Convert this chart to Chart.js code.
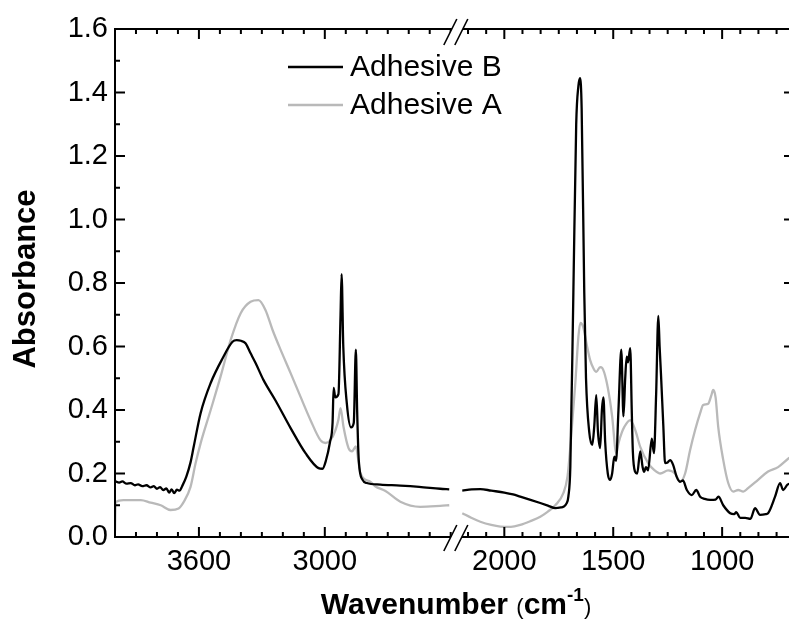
<!DOCTYPE html>
<html>
<head>
<meta charset="utf-8">
<script src="https://cdn.jsdelivr.net/npm/chart.js@4.4.1/dist/chart.umd.min.js"></script>
<style>
  html, body { margin: 0; padding: 0; overflow: hidden; background: #fff; }
</style>
</head>
<body>
<canvas id="chart" width="789" height="619"></canvas>
<script>
// Adhesive B (black)
const bWave = [4000, 3980, 3965, 3945, 3925, 3905, 3890, 3870, 3850, 3830, 3815, 3800, 3785, 3770, 3755, 3742, 3730, 3718, 3705, 3692, 3680,
  3660, 3640, 3625, 3592, 3544, 3487, 3440, 3420, 3400, 3378, 3355, 3330, 3292, 3235, 3163, 3092, 3030, 3011, 2995, 2975, 2963, 2958,
  2950, 2935, 2925, 2920, 2912, 2895, 2875, 2862, 2852, 2846, 2838, 2820, 2800, 2735, 2640, 2550, 2450, 2407,
  2193, 2150, 2110, 2060, 2000, 1960, 1927, 1880, 1835, 1800, 1766, 1740, 1729, 1715, 1706, 1697, 1683, 1670, 1660, 1652, 1645, 1633,
  1625, 1610, 1596, 1587, 1578, 1570, 1560, 1552, 1545, 1537, 1525, 1514, 1505, 1495, 1487, 1476, 1463, 1453, 1445, 1438, 1432, 1422,
  1415, 1410, 1400, 1390, 1376, 1365, 1358, 1350, 1340, 1323, 1313, 1303, 1293, 1287, 1281, 1270, 1262, 1250, 1239, 1225, 1209, 1193,
  1180, 1162, 1139, 1119, 1101, 1080, 1055, 1030, 1017, 995, 963, 945, 935, 917, 894, 870, 849, 826, 800, 789, 757, 734, 720, 700, 670];
const bAbs = [0.176, 0.171, 0.175, 0.168, 0.170, 0.163, 0.166, 0.160, 0.163, 0.156, 0.160, 0.152, 0.157, 0.148, 0.153, 0.140, 0.150, 0.138, 0.149, 0.146, 0.160,
  0.190, 0.235, 0.284, 0.390, 0.485, 0.563, 0.615, 0.620, 0.618, 0.610, 0.580, 0.548, 0.494, 0.430, 0.343, 0.264, 0.217, 0.215, 0.240, 0.300, 0.360, 0.470,
  0.440, 0.450, 0.700, 0.828, 0.600, 0.420, 0.345, 0.360, 0.590, 0.400, 0.240, 0.180, 0.170, 0.165, 0.162, 0.158, 0.152, 0.150,
  0.146, 0.150, 0.151, 0.146, 0.140, 0.134, 0.127, 0.117, 0.107, 0.099, 0.091, 0.093, 0.095, 0.105, 0.127, 0.220, 0.770, 1.300, 1.420, 1.445, 1.350, 0.770,
  0.500, 0.330, 0.290, 0.350, 0.447, 0.330, 0.280, 0.400, 0.440, 0.300, 0.200, 0.180, 0.200, 0.253, 0.240, 0.400, 0.590, 0.380, 0.500, 0.568, 0.550, 0.595,
  0.400, 0.270, 0.206, 0.200, 0.270, 0.220, 0.205, 0.220, 0.210, 0.310, 0.264, 0.450, 0.696, 0.600, 0.516, 0.350, 0.233, 0.235, 0.242, 0.227, 0.190, 0.174,
  0.178, 0.148, 0.132, 0.148, 0.127, 0.120, 0.117, 0.118, 0.127, 0.100, 0.075, 0.072, 0.078, 0.060, 0.060, 0.057, 0.091, 0.070, 0.072, 0.075, 0.127, 0.170, 0.148, 0.165, 0.170];

// Adhesive A (grey)
const aWave = [4000, 3997, 3960, 3900, 3877, 3830, 3782, 3735, 3697, 3673, 3640, 3616, 3592, 3544, 3497, 3449, 3401, 3354, 3316, 3283,
  3249, 3211, 3163, 3116, 3068, 3021, 2996, 2973, 2949, 2935, 2925, 2911, 2887, 2870, 2852, 2840, 2830, 2783, 2760, 2711, 2640, 2545, 2450, 2407,
  2193, 2150, 2110, 2060, 2018, 1970, 1927, 1880, 1835, 1800, 1766, 1729, 1710, 1697, 1674, 1660, 1651, 1638, 1620, 1606, 1590, 1578,
  1560, 1550, 1532, 1515, 1505, 1486, 1476, 1460, 1449, 1422, 1399, 1376, 1339, 1310, 1284, 1248, 1216, 1193, 1170, 1147, 1124, 1101,
  1087, 1064, 1050, 1041, 1030, 1018, 995, 972, 949, 926, 903, 881, 835, 789, 743, 694, 670];
const aAbs = [0.020, 0.110, 0.116, 0.116, 0.116, 0.108, 0.100, 0.085, 0.090, 0.110, 0.158, 0.232, 0.295, 0.400, 0.505, 0.620, 0.705, 0.741, 0.746, 0.715,
  0.652, 0.590, 0.516, 0.442, 0.368, 0.305, 0.296, 0.305, 0.337, 0.370, 0.406, 0.347, 0.280, 0.270, 0.285, 0.240, 0.200, 0.174, 0.160, 0.145, 0.111, 0.095, 0.098, 0.100,
  0.075, 0.060, 0.048, 0.038, 0.033, 0.032, 0.038, 0.050, 0.064, 0.080, 0.100, 0.138, 0.190, 0.284, 0.485, 0.630, 0.674, 0.662, 0.600, 0.557, 0.530, 0.520,
  0.535, 0.532, 0.494, 0.430, 0.380, 0.264, 0.295, 0.330, 0.347, 0.368, 0.337, 0.284, 0.232, 0.210, 0.200, 0.210, 0.200, 0.174, 0.200, 0.274, 0.337, 0.390,
  0.416, 0.420, 0.445, 0.463, 0.440, 0.347, 0.243, 0.170, 0.143, 0.148, 0.143, 0.154, 0.180, 0.206, 0.220, 0.248, 0.260];

const xMajorTicks = [3600, 3000, 2000, 1500, 1000];
const seriesNames = ['Adhesive B', 'Adhesive A'];
const seriesColors = ['#000000', '#b9b9b9'];

// broken x axis: 4000-2378 then 2225-~693 (right frame sits just past the window edge)
const LEFT_START = 4000, LEFT_END = 2378, RIGHT_START = 2225, RIGHT_END = 693;
const S1 = 0.21, S2 = 0.218;
const BREAK_U = (LEFT_START - LEFT_END) * S1;
const MAX_U = BREAK_U + (RIGHT_START - RIGHT_END) * S2;

function toU(w) {
  if (w >= LEFT_END) return (LEFT_START - w) * S1;
  return BREAK_U + (RIGHT_START - w) * S2;
}

function makePoints(waves, vals) {
  const pts = [];
  for (let i = 0; i < waves.length; i++) {
    if (i > 0 && waves[i - 1] >= LEFT_END && waves[i] < LEFT_END) pts.push({ x: BREAK_U, y: null });
    pts.push({ x: toU(waves[i]), y: vals[i] });
  }
  return pts;
}

const FONT = "'Liberation Sans', Arial, sans-serif";

const framePlugin = {
  id: 'frame',
  afterDatasetsDraw(chart) {
    const { ctx, chartArea: a, scales: { x, y } } = chart;
    const rightAxis = a.right + 6; // off-screen right axis, only tick tips show
    ctx.save();
    ctx.strokeStyle = '#000';
    ctx.lineWidth = 2;
    ctx.beginPath();
    ctx.moveTo(a.right + 2, a.top); ctx.lineTo(a.left, a.top);
    ctx.lineTo(a.left, a.bottom); ctx.lineTo(a.right + 2, a.bottom);
    ctx.stroke();

    // x ticks, inward on bottom and top
    const xt = [];
    for (let w = 3900; w >= 2400; w -= 100) xt.push(w);
    for (let k = -2; 2000 - k * 500 / 6 > RIGHT_END; k++) xt.push(2000 - k * 500 / 6);
    ctx.beginPath();
    xt.forEach(w => {
      const px = x.getPixelForValue(toU(w));
      const len = xMajorTicks.some(m => Math.abs(m - w) < 1) ? 10 : 5;
      ctx.moveTo(px, a.bottom); ctx.lineTo(px, a.bottom - len);
      ctx.moveTo(px, a.top); ctx.lineTo(px, a.top + len);
    });
    // y ticks, inward on left and right
    for (let i = 1; i < 16; i++) {
      const py = y.getPixelForValue(i / 10);
      const len = i % 2 === 0 ? 10 : 5;
      ctx.moveTo(a.left, py); ctx.lineTo(a.left + len, py);
      ctx.moveTo(rightAxis, py); ctx.lineTo(rightAxis - len - 1, py);
    }
    ctx.stroke();

    // axis break marks
    const bx = x.getPixelForValue(BREAK_U);
    [a.top + 3, a.bottom + 1].forEach(cy => {
      const c1 = bx - 5, c2 = bx + 6, dx = 6.5, dy = 13;
      ctx.fillStyle = '#fff';
      ctx.beginPath();
      ctx.moveTo(c1 - dx * 0.3, cy + dy * 0.3); ctx.lineTo(c1 + dx * 0.3, cy - dy * 0.3);
      ctx.lineTo(c2 + dx * 0.3, cy - dy * 0.3); ctx.lineTo(c2 - dx * 0.3, cy + dy * 0.3);
      ctx.closePath(); ctx.fill();
      ctx.lineWidth = 1.6;
      ctx.beginPath();
      ctx.moveTo(c1 - dx, cy + dy); ctx.lineTo(c1 + dx, cy - dy);
      ctx.moveTo(c2 - dx, cy + dy); ctx.lineTo(c2 + dx, cy - dy);
      ctx.stroke();
    });
    ctx.restore();
  },
  afterDraw(chart) {
    const { ctx } = chart;
    ctx.save();
    // legend
    ctx.font = '30px ' + FONT;
    ctx.textBaseline = 'alphabetic';
    chart.data.datasets.forEach((ds, i) => {
      const ly = 67 + i * 38;
      ctx.strokeStyle = ds.borderColor;
      ctx.lineWidth = 2.5;
      ctx.beginPath(); ctx.moveTo(288, ly); ctx.lineTo(343, ly); ctx.stroke();
      ctx.fillStyle = '#000';
      ctx.fillText(ds.label, 350, ly + 8.5);
    });

    // y title
    ctx.fillStyle = '#000';
    ctx.save();
    ctx.translate(35, 279);
    ctx.rotate(-Math.PI / 2);
    ctx.textAlign = 'center';
    ctx.font = 'bold 31px ' + FONT;
    ctx.fillText('Absorbance', 0, 0);
    ctx.restore();

    // x title with superscript
    const parts = [
      { t: 'Wavenumber ', f: 'bold 30px ' + FONT, dy: 0 },
      { t: '(', f: '22px ' + FONT, dy: 0 },
      { t: 'cm', f: 'bold 30px ' + FONT, dy: 0 },
      { t: '-1', f: 'bold 19px ' + FONT, dy: -13 },
      { t: ')', f: '22px ' + FONT, dy: 0 }
    ];
    let total = 0;
    parts.forEach(p => { ctx.font = p.f; p.w = ctx.measureText(p.t).width; total += p.w; });
    let tx = 456 - total / 2;
    parts.forEach(p => { ctx.font = p.f; ctx.fillText(p.t, tx, 614 + p.dy); tx += p.w; });
    ctx.restore();
  }
};

new Chart(document.getElementById('chart'), {
  type: 'line',
  data: {
    datasets: [
      { label: seriesNames[0], data: makePoints(bWave, bAbs), borderColor: seriesColors[0], borderWidth: 2.3, pointRadius: 0, spanGaps: false, cubicInterpolationMode: 'monotone' },
      { label: seriesNames[1], data: makePoints(aWave, aAbs), borderColor: seriesColors[1], borderWidth: 2.3, pointRadius: 0, spanGaps: false, cubicInterpolationMode: 'monotone' }
    ]
  },
  options: {
    responsive: false,
    animation: false,
    layout: { padding: { left: 0, top: 29, right: 0, bottom: 0 } },
    plugins: { legend: { display: false }, tooltip: { enabled: false } },
    scales: {
      x: {
        type: 'linear', min: 0, max: MAX_U,
        grid: { display: false, drawTicks: false },
        border: { display: false },
        afterBuildTicks: scale => { scale.ticks = xMajorTicks.map(w => ({ value: toU(w) })); },
        afterFit: scale => { scale.height = 82; },
        ticks: {
          autoSkip: false, maxRotation: 0, padding: 8, color: '#000',
          font: { family: FONT, size: 29 },
          callback: (v, i) => String(xMajorTicks[i])
        }
      },
      y: {
        min: 0, max: 1.6,
        grid: { display: false, drawTicks: false },
        border: { display: false },
        afterFit: scale => { scale.width = 115; },
        ticks: {
          stepSize: 0.2, padding: 7, color: '#000',
          font: { family: FONT, size: 29 },
          callback: v => v.toFixed(1)
        }
      }
    }
  },
  plugins: [framePlugin]
});
</script>
</body>
</html>
